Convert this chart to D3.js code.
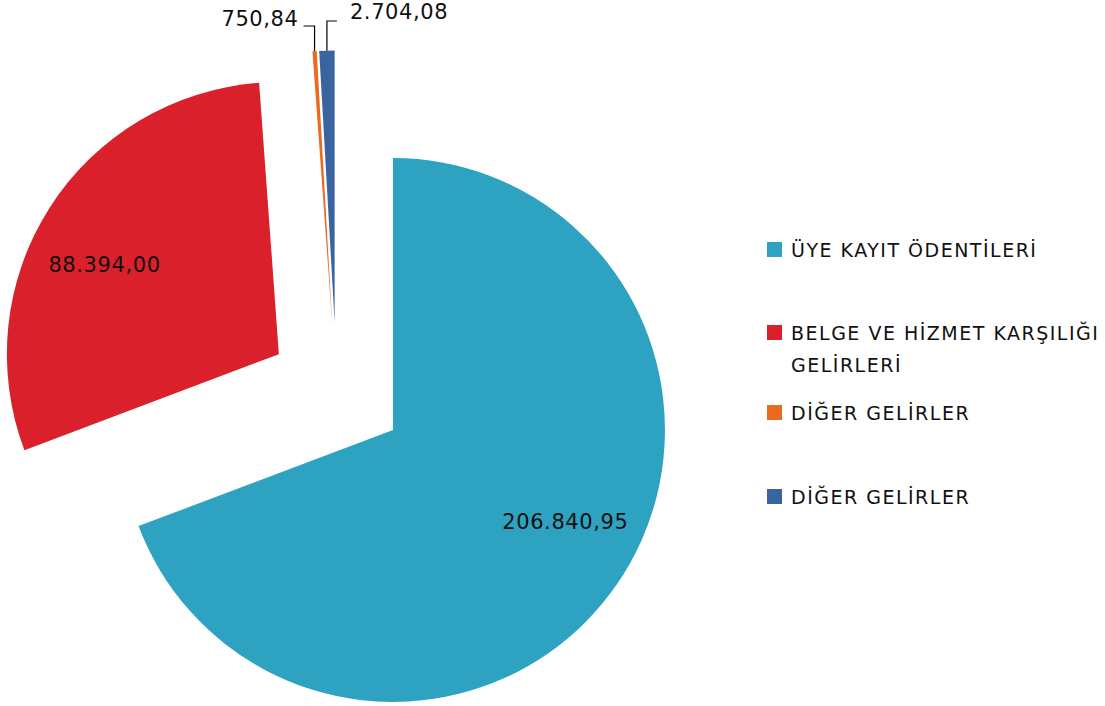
<!DOCTYPE html>
<html>
<head>
<meta charset="utf-8">
<script src="https://cdn.jsdelivr.net/npm/d3@7"></script>
<style>
  html, body { margin: 0; padding: 0; background: #fff; }
  svg { display: block; }
  text { font-family: "DejaVu Sans", sans-serif; fill: #111; }
</style>
</head>
<body>
<svg id="chart" width="1105" height="706"></svg>
<script>
// Gelir kalemleri (TL)
const categories = [
  "ÜYE KAYIT ÖDENTİLERİ",
  "BELGE VE HİZMET KARŞILIĞI GELİRLERİ",
  "DİĞER GELİRLER",
  "DİĞER GELİRLER"
];
const values = [206840.95, 88394.00, 750.84, 2704.08];
const valueLabels = ["206.840,95", "88.394,00", "750,84", "2.704,08"];
const colors = ["#2EA3C1", "#DA202B", "#EB6A20", "#3A64A0"];

const svg = d3.select("#chart");
const W = 1105, H = 706;

const cx = 336.6, cy = 391, R = 272, explode = 68.5;

const pie = d3.pie().sort(null).value(d => d.v).startAngle(0).endAngle(2 * Math.PI);
const data = categories.map((c, i) => ({ c, v: values[i], lab: valueLabels[i], col: colors[i], i }));
const arcs = pie(data);

const arc = d3.arc().innerRadius(0).outerRadius(R);
const labelArc = d3.arc().innerRadius(195).outerRadius(195);

function offset(a) {
  const m = (a.startAngle + a.endAngle) / 2;
  return [cx + explode * Math.sin(m), cy - explode * Math.cos(m)];
}

const g = svg.append("g");
arcs.forEach(a => {
  const [ox, oy] = offset(a);
  g.append("path")
    .attr("transform", `translate(${ox},${oy})`)
    .attr("d", arc(a))
    .attr("fill", a.data.col);
});

// Inside labels for the two big slices
arcs.slice(0, 2).forEach(a => {
  const [ox, oy] = offset(a);
  const [lx, ly] = labelArc.centroid(a);
  const adj = a.index === 0 ? [12, -19] : [-10, 16];
  g.append("text")
    .attr("x", ox + lx + adj[0])
    .attr("y", oy + ly + adj[1])
    .attr("text-anchor", "middle")
    .attr("dominant-baseline", "central")
    .style("font-size", "21px")
    .style("letter-spacing", "0.6px")
    .text(a.data.lab);
});

// Outside labels with leader lines for the thin slices
const leaderY = [26, 21];
const leaderDx = [-11, 10];
const textY = [19, 12];
arcs.slice(2).forEach((a, k) => {
  const [ox, oy] = offset(a);
  const m = (a.startAngle + a.endAngle) / 2;
  const px = ox + R * Math.sin(m), py = oy - R * Math.cos(m);
  const ly = leaderY[k], ex = px + leaderDx[k];
  g.append("path")
    .attr("d", `M${px},${py}L${px},${ly}L${ex},${ly}`)
    .attr("fill", "none")
    .attr("stroke", "#000")
    .attr("stroke-width", 1.2);
  g.append("text")
    .attr("x", k === 0 ? ex - 5 : ex + 13)
    .attr("y", textY[k])
    .attr("text-anchor", k === 0 ? "end" : "start")
    .attr("dominant-baseline", "central")
    .style("font-size", "21px")
    .style("letter-spacing", "0.6px")
    .text(a.data.lab);
});

// Legend
const legendX = 767, legendRows = [250, 333, 413, 497];
const leg = svg.append("g");
data.forEach((d, i) => {
  const y = legendRows[i];
  leg.append("rect")
    .attr("x", legendX).attr("y", y - 8)
    .attr("width", 15).attr("height", 15)
    .attr("fill", d.col);
  const t = leg.append("text")
    .attr("x", legendX + 24).attr("y", y)
    .attr("dominant-baseline", "central")
    .style("font-size", "19px")
    .style("letter-spacing", "1.5px");
  // wrap long entries onto a second line
  const words = d.c.split(" ");
  let line = [];
  let tspan = t.append("tspan").attr("x", legendX + 24).attr("dy", 0);
  const maxW = W - (legendX + 24) - 2;
  words.forEach(w => {
    line.push(w);
    tspan.text(line.join(" "));
    if (tspan.node().getComputedTextLength() > maxW && line.length > 1) {
      line.pop();
      tspan.text(line.join(" "));
      line = [w];
      tspan = t.append("tspan").attr("x", legendX + 24).attr("dy", 32).text(w);
    }
  });
});
</script>
</body>
</html>
